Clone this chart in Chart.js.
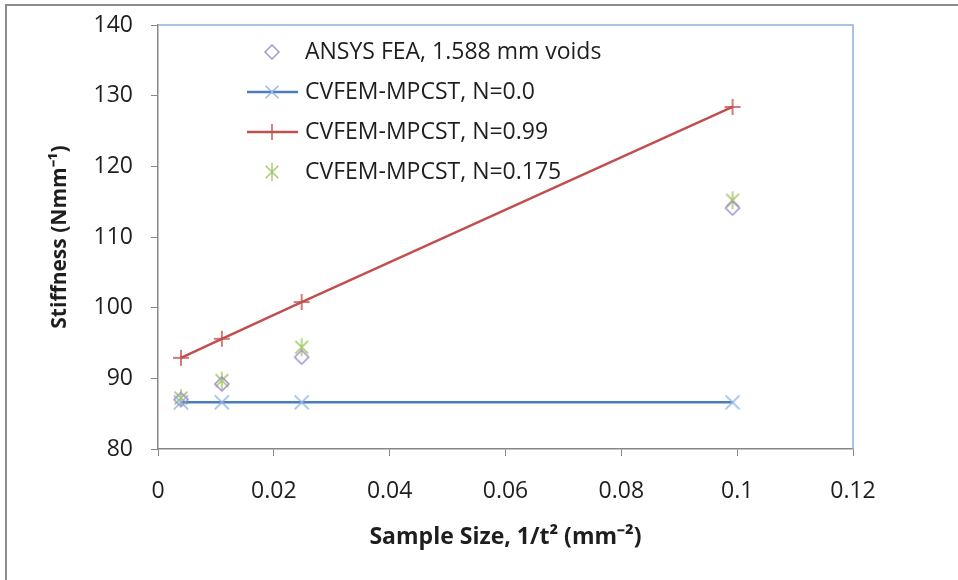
<!DOCTYPE html>
<html>
<head>
<meta charset="utf-8">
<title>Stiffness vs Sample Size</title>
<script src="https://cdn.jsdelivr.net/npm/chart.js@4.4.0/dist/chart.umd.min.js"></script>
<style>
    html, body { margin: 0; padding: 0; background: #fff; }
    #wrap { position: relative; width: 958px; height: 580px; }
    canvas { display: block; }
</style>
</head>
<body>
<div id="wrap"><canvas id="stiffnessChart" width="958" height="580"></canvas></div>
<script>
// sample size 1/t^2 (mm^-2)
const sampleSize = [0.00397, 0.01102, 0.0248, 0.0992];

const ansysFea = [87.0, 89.2, 93.0, 114.1];
const mpcstN000 = [86.6, 86.6, 86.6, 86.6];
const mpcstN099 = [92.9, 95.6, 100.8, 128.4];
const mpcstN0175 = [87.2, 89.7, 94.4, 115.2];

const seriesLabels = [
    'ANSYS FEA, 1.588 mm voids',
    'CVFEM-MPCST, N=0.0',
    'CVFEM-MPCST, N=0.99',
    'CVFEM-MPCST, N=0.175'
];

const xTicks = [0, 0.02, 0.04, 0.06, 0.08, 0.1, 0.12];
const yTicks = [80, 90, 100, 110, 120, 130, 140];

const TICK_FONT = { family: '"Open Sans", "Liberation Sans", sans-serif', size: 23 };
const AXIS_GRAY = '#878787';
const TEXT_COLOR = '#1e1e1e';

function toPoints(values) {
    return values.map((v, i) => ({ x: sampleSize[i], y: v }));
}

// marker painter, used for the legend and for the excel-like asterisk
function drawMarker(ctx, style, x, y, r) {
    const d = r * Math.SQRT1_2;
    ctx.beginPath();
    if (style === 'diamond') {
        ctx.moveTo(x, y - r);
        ctx.lineTo(x + r, y);
        ctx.lineTo(x, y + r);
        ctx.lineTo(x - r, y);
        ctx.closePath();
    } else if (style === 'plus') {
        ctx.moveTo(x, y - r); ctx.lineTo(x, y + r);
        ctx.moveTo(x - r, y); ctx.lineTo(x + r, y);
    } else if (style === 'x') {
        ctx.moveTo(x - d, y - d); ctx.lineTo(x + d, y + d);
        ctx.moveTo(x - d, y + d); ctx.lineTo(x + d, y - d);
    } else if (style === 'asterisk') {
        ctx.moveTo(x, y - r); ctx.lineTo(x, y + r);
        ctx.moveTo(x - d, y - d); ctx.lineTo(x + d, y + d);
        ctx.moveTo(x - d, y + d); ctx.lineTo(x + d, y - d);
    }
    ctx.stroke();
}

function markerCanvas(style, r, color, lw) {
    const size = Math.ceil(2 * r + 4);
    const c = document.createElement('canvas');
    c.width = size;
    c.height = size;
    const g = c.getContext('2d');
    g.strokeStyle = color;
    g.lineWidth = lw;
    drawMarker(g, style, size / 2, size / 2, r);
    return c;
}

const markerStyles = ['diamond', 'x', 'plus', 'asterisk'];
const markerRadius = [8, 10, 9, 10];
const markerColors = ['#a38fc9', '#8fb3e2', '#c0504d', '#a6c96a'];
const lineColors = [null, '#4a7ebb', '#c0504d', null];

const framePlugin = {
    id: 'frame',
    beforeDraw(chart) {
        const ctx = chart.ctx;
        ctx.save();
        ctx.strokeStyle = '#8c8c8c';
        ctx.lineWidth = 2;
        ctx.beginPath();
        ctx.moveTo(6, 580);
        ctx.lineTo(6, 5);
        ctx.lineTo(958, 5);
        ctx.stroke();
        ctx.restore();
    },
    afterDraw(chart) {
        const { ctx, chartArea } = chart;
        ctx.save();
        ctx.strokeStyle = '#8db0dd';
        ctx.lineWidth = 1.5;
        ctx.beginPath();
        ctx.moveTo(chartArea.left, chartArea.top);
        ctx.lineTo(chartArea.right, chartArea.top);
        ctx.lineTo(chartArea.right, chartArea.bottom);
        ctx.stroke();
        ctx.restore();
    }
};

const insideLegendPlugin = {
    id: 'insideLegend',
    afterDatasetsDraw(chart) {
        const { ctx, chartArea } = chart;
        ctx.save();
        chart.data.datasets.forEach((ds, i) => {
            const y = chartArea.top + 27 + i * 40;
            const mx = chartArea.left + 114;
            if (lineColors[i]) {
                ctx.strokeStyle = lineColors[i];
                ctx.lineWidth = 2.5;
                ctx.beginPath();
                ctx.moveTo(chartArea.left + 89, y);
                ctx.lineTo(chartArea.left + 140, y);
                ctx.stroke();
            }
            ctx.strokeStyle = markerColors[i];
            ctx.lineWidth = 1.4;
            drawMarker(ctx, markerStyles[i], mx, y, markerRadius[i] - 1);
            ctx.fillStyle = TEXT_COLOR;
            ctx.font = '23px "Open Sans", "Liberation Sans", sans-serif';
            ctx.textBaseline = 'middle';
            ctx.textAlign = 'left';
            ctx.fillText(ds.label, chartArea.left + 147, y);
        });
        ctx.restore();
    }
};

const ctx = document.getElementById('stiffnessChart').getContext('2d');

const seriesData = [ansysFea, mpcstN000, mpcstN099, mpcstN0175];

new Chart(ctx, {
    type: 'scatter',
    data: {
        datasets: seriesData.map((values, i) => ({
            label: seriesLabels[i],
            data: toPoints(values),
            showLine: !!lineColors[i],
            borderColor: lineColors[i] || markerColors[i],
            borderWidth: 2.5,
            backgroundColor: 'rgba(0,0,0,0)',
            pointStyle: markerCanvas(markerStyles[i], markerRadius[i] - (i === 1 ? 0 : 1), markerColors[i], 1.5),
            pointRadius: markerRadius[i]
        }))
    },
    options: {
        responsive: false,
        animation: false,
        layout: {
            padding: { left: 0, top: 25, right: 105, bottom: 0 }
        },
        scales: {
            x: {
                type: 'linear',
                min: 0,
                max: 0.12,
                afterFit: (scale) => { scale.height = 131; },
                afterBuildTicks: (scale) => { scale.ticks = xTicks.map(v => ({ value: v })); },
                ticks: {
                    color: TEXT_COLOR,
                    font: TICK_FONT,
                    padding: 22,
                    maxRotation: 0,
                    callback: (value) => String(+Number(value).toFixed(2))
                },
                grid: {
                    drawOnChartArea: false,
                    drawTicks: true,
                    tickLength: 7,
                    color: AXIS_GRAY
                },
                border: { color: AXIS_GRAY, width: 1.5 },
                title: {
                    display: true,
                    text: 'Sample Size, 1/t² (mm⁻²)',
                    color: TEXT_COLOR,
                    font: { family: '"Open Sans", "Liberation Sans", sans-serif', size: 23, weight: 'bold' },
                    padding: { top: 0, bottom: 29 }
                }
            },
            y: {
                type: 'linear',
                min: 80,
                max: 140,
                afterFit: (scale) => {
                    scale.width = 158;
                    // the big tick padding would otherwise push the plot top down
                    scale.paddingTop = 0;
                    scale.paddingBottom = 0;
                },
                afterBuildTicks: (scale) => { scale.ticks = yTicks.map(v => ({ value: v })); },
                ticks: {
                    color: TEXT_COLOR,
                    font: TICK_FONT,
                    padding: 18
                },
                grid: {
                    drawOnChartArea: false,
                    drawTicks: true,
                    tickLength: 7,
                    color: AXIS_GRAY
                },
                border: { color: AXIS_GRAY, width: 1.5 },
                title: {
                    display: true,
                    text: 'Stiffness (Nmm⁻¹)',
                    color: TEXT_COLOR,
                    font: { family: '"Open Sans", "Liberation Sans", sans-serif', size: 21, weight: 'bold' },
                    padding: { top: 47, bottom: 0 }
                }
            }
        },
        plugins: {
            legend: { display: false },
            tooltip: { enabled: false }
        }
    },
    plugins: [framePlugin, insideLegendPlugin]
});
</script>
</body>
</html>
